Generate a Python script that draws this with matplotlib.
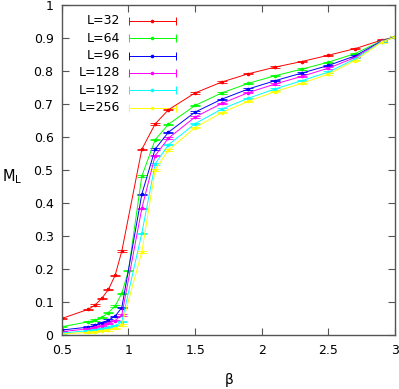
import matplotlib
matplotlib.use("Agg")
import matplotlib.pyplot as plt

# beta values (L=64 run has an extra point at 1.0)
beta = [0.5, 0.7, 0.75, 0.8, 0.85, 0.9, 0.95, 1.1, 1.2, 1.3, 1.5, 1.7, 1.9, 2.1, 2.3, 2.5, 2.7, 2.9, 3.0]
beta_64 = [0.5, 0.7, 0.75, 0.8, 0.85, 0.9, 0.95, 1.0, 1.1, 1.2, 1.3, 1.5, 1.7, 1.9, 2.1, 2.3, 2.5, 2.7, 2.9, 3.0]

m32 = [0.051, 0.079, 0.092, 0.112, 0.139, 0.182, 0.255, 0.563, 0.640, 0.683, 0.734, 0.767, 0.792, 0.812, 0.829, 0.848, 0.868, 0.894, 0.903]
m64 = [0.026, 0.041, 0.046, 0.054, 0.069, 0.089, 0.127, 0.196, 0.482, 0.592, 0.639, 0.696, 0.734, 0.763, 0.786, 0.806, 0.827, 0.853, 0.892, 0.903]
m96 = [0.016, 0.025, 0.031, 0.038, 0.046, 0.058, 0.084, 0.427, 0.564, 0.615, 0.676, 0.715, 0.746, 0.771, 0.794, 0.817, 0.846, 0.891, 0.903]
m128 = [0.011, 0.020, 0.024, 0.029, 0.036, 0.044, 0.062, 0.384, 0.544, 0.597, 0.661, 0.702, 0.735, 0.761, 0.784, 0.809, 0.841, 0.890, 0.903]
m192 = [0.007, 0.014, 0.017, 0.020, 0.024, 0.029, 0.041, 0.309, 0.519, 0.577, 0.641, 0.685, 0.718, 0.746, 0.771, 0.797, 0.837, 0.889, 0.903]
m256 = [0.004, 0.009, 0.011, 0.014, 0.016, 0.021, 0.031, 0.252, 0.501, 0.561, 0.629, 0.674, 0.709, 0.738, 0.763, 0.791, 0.832, 0.888, 0.903]

labels = ["L=32", "L=64", "L=96", "L=128", "L=192", "L=256"]
colors = ["#ff0000", "#00ff00", "#0000ff", "#ff00ff", "#00ffff", "#ffff00"]
err = 0.002

fig = plt.figure(figsize=(3.99, 3.89), dpi=100)
ax = fig.add_axes([0.155, 0.138, 0.835, 0.849])

series = [(beta, m32), (beta_64, m64), (beta, m96), (beta, m128), (beta, m192), (beta, m256)]
for (xs, ys), lab, c in zip(series, labels, colors):
    ax.errorbar(xs, ys, yerr=err, color=c, lw=0.7, marker="o", ms=1.6,
                capsize=3.5, capthick=0.6, elinewidth=0.6)

# gnuplot-like legend, drawn by hand
for i, (lab, c) in enumerate(zip(labels, colors)):
    y = 0.952 - i * 0.0525
    ax.text(0.174, y, lab, transform=ax.transAxes, ha="right", va="center", fontsize=9)
    ax.plot([0.201, 0.342], [y, y], transform=ax.transAxes, color=c, lw=0.7)
    ax.plot([0.201, 0.342], [y, y], transform=ax.transAxes, color=c, lw=0,
            marker="|", ms=6, mew=0.7)
    ax.plot([0.2715], [y], transform=ax.transAxes, color=c, marker="o", ms=1.6)

ax.set_xlim(0.5, 3)
ax.set_ylim(0, 1)
ax.set_xticks([0.5, 1, 1.5, 2, 2.5, 3])
ax.set_xticklabels(["0.5", "1", "1.5", "2", "2.5", "3"])
ax.set_yticks([0, 0.1, 0.2, 0.3, 0.4, 0.5, 0.6, 0.7, 0.8, 0.9, 1])
ax.set_yticklabels(["0", "0.1", "0.2", "0.3", "0.4", "0.5", "0.6", "0.7", "0.8", "0.9", "1"])
ax.tick_params(direction="in", length=5, width=0.8, color="#555555",
               top=True, right=True, labelsize=9, pad=6)
for s in ax.spines.values():
    s.set_color("#555555")
    s.set_linewidth(1)

ax.set_xlabel(r"$\mathregular{\beta}$", fontsize=10, labelpad=10)
ax.set_ylabel(r"$\mathregular{M_L}$", fontsize=10.5, rotation=0, va="center")
ax.yaxis.set_label_coords(-0.15, 0.48)

fig.savefig("out.png", dpi=100)
